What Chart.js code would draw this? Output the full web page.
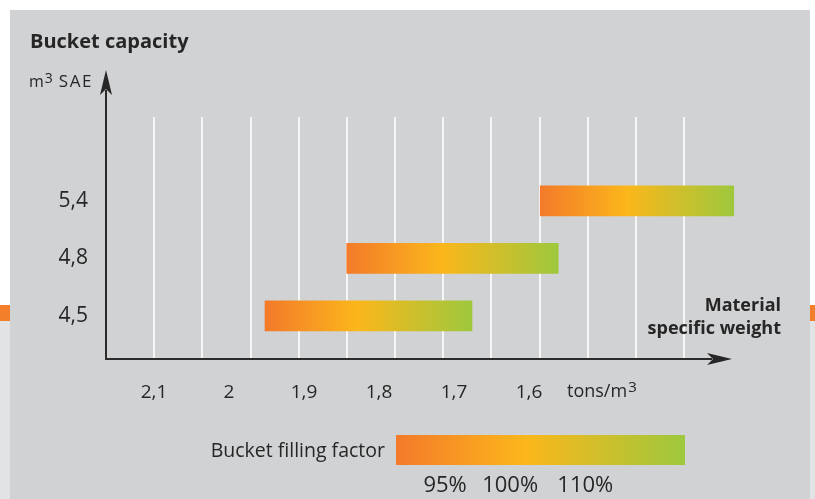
<!DOCTYPE html>
<html>
<head>
<meta charset="utf-8">
<script src="https://cdn.jsdelivr.net/npm/chart.js@4/dist/chart.umd.min.js"></script>
<style>
  html, body { margin: 0; padding: 0; background: #ffffff; }
  #wrap { position: relative; width: 815px; height: 499px; overflow: hidden; background: #ffffff; }
  .block { position: absolute; }
  canvas { position: absolute; left: 0; top: 0; }
</style>
</head>
<body>
<div id="wrap">
  <div class="block" style="left:0;top:305px;width:10px;height:16px;background:#f37f2a"></div>
  <div class="block" style="left:0;top:321px;width:10px;height:178px;background:#e2e3e5"></div>
  <div class="block" style="left:810px;top:305px;width:5px;height:16px;background:#f37f2a"></div>
  <div class="block" style="left:810px;top:321px;width:5px;height:178px;background:#e2e3e5"></div>
  <div class="block" style="left:10px;top:10px;width:800px;height:489px;background:#d1d2d4"></div>
  <canvas id="chart" width="815" height="499"></canvas>
</div>
<script>
// Bucket capacities (m³ SAE) and the material specific weight range each one suits
const capacities = ['5,4', '4,8', '4,5'];
const weightFrom = [1.585, 1.843, 1.952];   // tons/m³ at 95 % filling
const weightTo   = [1.327, 1.561, 1.676];   // tons/m³ at 110 % filling

// Specific weight axis
const weightTicks = [2.1, 2.0, 1.9, 1.8, 1.7, 1.6];
const weightTickLabels = ['2,1', '2', '1,9', '1,8', '1,7', '1,6'];

// Filling factor scale shown under the chart
const fillingFactors = ['95%', '100%', '110%'];
const gradientStops = [0, 0.45, 1];
const gradientColors = ['#f37a2a', '#fbb71b', '#9ec83d'];

const GRID_LINES = 12;
const TEXT = '#262626';
const FONT = '"Open Sans", "DejaVu Sans", sans-serif';

function fillGradient(ctx, x0, x1) {
  const g = ctx.createLinearGradient(x0, 0, x1, 0);
  gradientStops.forEach((s, i) => g.addColorStop(s, gradientColors[i]));
  return g;
}

function arrowHead(ctx, tipX, tipY, dirX, dirY) {
  const len = 25, half = 6, notch = 19;
  const px = -dirY, py = dirX;
  ctx.beginPath();
  ctx.moveTo(tipX, tipY);
  ctx.lineTo(tipX - dirX * len + px * half, tipY - dirY * len + py * half);
  ctx.lineTo(tipX - dirX * notch, tipY - dirY * notch);
  ctx.lineTo(tipX - dirX * len - px * half, tipY - dirY * len - py * half);
  ctx.closePath();
  ctx.fill();
}

// Axes with arrows, axis captions and the filling factor key
const decorations = {
  id: 'decorations',
  afterDraw(chart) {
    const ctx = chart.ctx;
    const a = chart.chartArea;
    ctx.save();
    ctx.fillStyle = TEXT;
    ctx.strokeStyle = '#2b2b2b';
    ctx.lineWidth = 2;

    // y axis
    const yTip = a.top - 47;
    ctx.beginPath();
    ctx.moveTo(a.left, a.bottom + 1);
    ctx.lineTo(a.left, yTip + 20);
    ctx.stroke();
    arrowHead(ctx, a.left, yTip, 0, -1);

    // x axis
    const xTip = a.right - 4;
    ctx.beginPath();
    ctx.moveTo(a.left - 1, a.bottom);
    ctx.lineTo(xTip - 20, a.bottom);
    ctx.stroke();
    arrowHead(ctx, xTip, a.bottom, 1, 0);

    // title
    ctx.textBaseline = 'alphabetic';
    ctx.textAlign = 'left';
    ctx.font = 'bold 20px ' + FONT;
    ctx.fillText('Bucket capacity', 30, 48);

    // y axis unit
    ctx.font = '16px ' + FONT;
    ctx.fillText('m', 29, 87);
    let x = 29 + ctx.measureText('m').width + 1;
    ctx.font = '14px ' + FONT;
    ctx.fillText('3', x, 83);
    x += ctx.measureText('3').width + 6;
    ctx.font = '17px ' + FONT;
    ctx.letterSpacing = '1.5px';
    ctx.fillText('SAE', x, 87);
    ctx.letterSpacing = '0px';

    // x axis unit
    ctx.font = '18px ' + FONT;
    ctx.fillText('tons/m', 567, 397);
    const w = ctx.measureText('tons/m').width;
    ctx.font = '15px ' + FONT;
    ctx.fillText('3', 567 + w + 1, 392);

    // x axis caption
    ctx.textAlign = 'right';
    ctx.font = 'bold 18px ' + FONT;
    ctx.fillText('Material', 781, 311);
    ctx.fillText('specific weight', 781, 334);

    // filling factor key
    const kx = 396, ky = 435, kw = 289, kh = 30;
    ctx.font = '19.5px ' + FONT;
    ctx.fillText('Bucket filling factor', 385, 457);
    ctx.fillStyle = fillGradient(ctx, kx, kx + kw);
    ctx.fillRect(kx, ky, kw, kh);
    ctx.fillStyle = TEXT;
    ctx.textAlign = 'center';
    ctx.font = '22px ' + FONT;
    const labelAt = [0.17, 0.395, 0.655];
    fillingFactors.forEach((t, i) => ctx.fillText(t, kx + kw * labelAt[i], 492));
    ctx.restore();
  }
};

const chart = new Chart(document.getElementById('chart'), {
  type: 'bar',
  data: {
    datasets: [{
      data: capacities.map((c, i) => ({ x: [weightFrom[i], weightTo[i]], y: i })),
      barThickness: 30,
      borderWidth: 0,
      borderSkipped: false,
      backgroundColor(c) {
        const ch = c.chart, xs = ch.scales.x;
        if (c.type !== 'data' || !xs || !ch.chartArea) return gradientColors[0];
        const p0 = xs.getPixelForValue(c.raw.x[0]);
        const p1 = xs.getPixelForValue(c.raw.x[1]);
        return fillGradient(ch.ctx, Math.min(p0, p1), Math.max(p0, p1));
      }
    }]
  },
  options: {
    indexAxis: 'y',
    responsive: false,
    animation: false,
    events: [],
    layout: { padding: { left: 10, right: 79, top: 117, bottom: 0 } },
    plugins: { legend: { display: false }, title: { display: false }, tooltip: { enabled: false } },
    scales: {
      x: {
        type: 'linear', position: 'bottom', reverse: true,
        min: 1.324, max: 2.164,
        afterBuildTicks(s) { s.ticks = weightTicks.map(v => ({ value: v })); },
        afterFit(s) { s.height = 140; },
        ticks: {
          callback: (v, i) => weightTickLabels[i],
          autoSkip: false, maxRotation: 0, padding: 22,
          color: TEXT, font: { family: FONT, size: 19 }
        },
        grid: { display: false, drawTicks: false },
        border: { display: false }
      },
      grid: {
        type: 'linear', position: 'top', axis: 'x',
        min: 0, max: 13.076,
        afterBuildTicks(s) { s.ticks = Array.from({ length: GRID_LINES }, (_, i) => ({ value: i + 1 })); },
        afterFit(s) { s.height = 0; },
        ticks: { display: false },
        grid: { color: '#f6f6f6', lineWidth: 2, drawTicks: false },
        border: { display: false }
      },
      y: {
        type: 'linear', position: 'left', reverse: true, offset: false,
        min: -1.46, max: 2.75,
        afterBuildTicks(s) { s.ticks = capacities.map((_, i) => ({ value: i })); },
        afterFit(s) { s.width = 96; },
        ticks: {
          callback: v => capacities[v],
          padding: 18, color: TEXT, font: { family: FONT, size: 21 }
        },
        grid: { display: false, drawTicks: false },
        border: { display: false }
      }
    }
  },
  plugins: [decorations]
});
</script>
</body>
</html>
